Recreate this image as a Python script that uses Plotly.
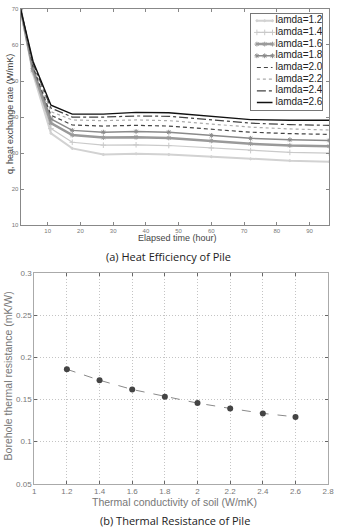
import plotly.graph_objects as go

# ---- data: top chart (heat exchange rate vs elapsed time) ----
hours = [1.7, 5.5, 11, 17.5, 27, 37, 47, 60, 72, 84, 96]
lamda_labels = ["lamda=1.2", "lamda=1.4", "lamda=1.6", "lamda=1.8",
                "lamda=2.0", "lamda=2.2", "lamda=2.4", "lamda=2.6"]
q_12 = [70, 52.0, 35.5, 31.3, 29.6, 29.8, 29.6, 29.0, 28.4, 27.9, 27.6]
q_14 = [70, 52.5, 36.8, 33.0, 32.2, 32.3, 32.1, 31.4, 30.7, 30.2, 30.0]
q_16 = [70, 53.0, 38.3, 35.0, 34.3, 34.4, 34.2, 33.4, 32.6, 32.1, 31.9]
q_18 = [70, 53.5, 39.5, 36.3, 35.8, 36.0, 35.8, 34.9, 34.1, 33.7, 33.5]
q_20 = [70, 54.0, 40.5, 37.8, 37.5, 37.7, 37.5, 36.6, 35.8, 35.4, 35.2]
q_22 = [70, 54.5, 41.5, 39.2, 39.0, 39.2, 39.0, 38.0, 37.2, 36.7, 36.4]
q_24 = [70, 55.0, 42.5, 40.0, 40.0, 40.3, 40.2, 39.2, 38.3, 37.9, 37.7]
q_26 = [70, 55.5, 43.3, 40.8, 40.8, 41.3, 41.2, 40.2, 39.3, 39.1, 39.1]

# ---- data: bottom chart (borehole thermal resistance) ----
conductivity = [1.2, 1.4, 1.6, 1.8, 2.0, 2.2, 2.4, 2.6]
resistance = [0.186, 0.173, 0.162, 0.1535, 0.1458, 0.1395, 0.1336, 0.1294]

top_series = [q_12, q_14, q_16, q_18, q_20, q_22, q_24, q_26]
styles = [
    dict(color="#d2d2d2", width=2, dash="solid", marker=dict(symbol="circle", size=2)),
    dict(color="#cacaca", width=1.2, dash="solid", marker=dict(symbol="cross-thin", size=4)),
    dict(color="#9a9a9a", width=2.5, dash="solid", marker=dict(symbol="asterisk", size=4)),
    dict(color="#8a8a8a", width=1.5, dash="solid", marker=dict(symbol="asterisk", size=4)),
    dict(color="#444444", width=1.2, dash="4px,3px", marker=None),
    dict(color="#aaaaaa", width=1.2, dash="dot", marker=None),
    dict(color="#444444", width=1.2, dash="dashdot", marker=None),
    dict(color="#111111", width=1.4, dash="solid", marker=None),
]

W, H = 341, 531
fig = go.Figure()

for i, (name, ys, st) in enumerate(zip(lamda_labels, top_series, styles)):
    mk = st["marker"]
    line = dict(color=st["color"], width=st["width"], dash=st["dash"])
    tr = dict(x=hours, y=ys, name=name, xaxis="x", yaxis="y", line=line, showlegend=False)
    leg = dict(x=[6, 14, 22], y=[i, i, i], xaxis="x3", yaxis="y3", line=line,
               showlegend=False, hoverinfo="skip")
    if mk:
        marker = dict(symbol=mk["symbol"], size=mk["size"], color=st["color"],
                      line=dict(color=st["color"], width=1))
        tr.update(mode="lines+markers", marker=marker)
        leg.update(mode="lines+markers", marker=marker)
    else:
        tr["mode"] = "lines"
        leg["mode"] = "lines"
    fig.add_trace(go.Scatter(**tr))
    fig.add_trace(go.Scatter(**leg))

# legend text (inset key)
fig.add_trace(go.Scatter(
    x=[25] * len(lamda_labels), y=list(range(len(lamda_labels))), text=lamda_labels,
    mode="text", textposition="middle right", xaxis="x3", yaxis="y3",
    textfont=dict(family="Liberation Sans", size=10, color="#222222"),
    showlegend=False, hoverinfo="skip"))

fig.add_trace(go.Scatter(
    x=conductivity, y=resistance, mode="lines+markers", showlegend=False,
    xaxis="x2", yaxis="y2",
    line=dict(color="#8a8a8a", width=1, dash="dash"),
    marker=dict(symbol="circle", size=6, color="#444444")))

tickfont_top = dict(family="Liberation Sans", size=6, color="#777777")
tickfont_bot = dict(family="Liberation Sans", size=8, color="#777777")

fig.update_layout(
    width=W, height=H, margin=dict(l=0, r=0, t=0, b=0),
    paper_bgcolor="white", plot_bgcolor="white",
    font=dict(family="Liberation Sans", color="#333333"),
    showlegend=False,
    xaxis=dict(domain=[19 / W, 335 / W], range=[1.7, 96], anchor="y",
               tickvals=[10, 20, 30, 40, 50, 60, 70, 80, 90],
               ticks="inside", ticklen=3, tickcolor="#888888",
               showline=True, linecolor="#888888", mirror="ticks",
               showgrid=False, zeroline=False, tickfont=tickfont_top),
    yaxis=dict(domain=[1 - 225 / H, 1 - 5 / H], range=[10, 70], anchor="x",
               tickvals=[10, 20, 30, 40, 50, 60, 70],
               ticks="inside", ticklen=3, tickcolor="#888888",
               showline=True, linecolor="#888888", mirror="ticks",
               showgrid=False, zeroline=False, tickfont=tickfont_top),
    xaxis2=dict(domain=[33 / W, 334 / W], range=[1, 2.8], anchor="y2",
                tickvals=[1, 1.2, 1.4, 1.6, 1.8, 2, 2.2, 2.4, 2.6, 2.8],
                ticktext=["1", "1.2", "1.4", "1.6", "1.8", "2", "2.2", "2.4", "2.6", "2.8"],
                ticks="inside", ticklen=3, tickcolor="#666666",
                showline=True, linecolor="#aaaaaa", mirror="ticks",
                showgrid=True, gridcolor="#c4c4c4", griddash="1px,2px", gridwidth=1,
                zeroline=False, tickfont=tickfont_bot),
    yaxis2=dict(domain=[1 - 488 / H, 1 - 274 / H], range=[0.05, 0.3], anchor="x2",
                tickvals=[0.05, 0.1, 0.15, 0.2, 0.25, 0.3],
                ticktext=["0.05", "0.1", "0.15", "0.2", "0.25", "0.3"],
                ticks="inside", ticklen=3, tickcolor="#666666",
                showline=True, linecolor="#aaaaaa", mirror="ticks",
                showgrid=True, gridcolor="#c4c4c4", griddash="1px,2px", gridwidth=1,
                zeroline=False, tickfont=tickfont_bot),
    # inset key axes
    xaxis3=dict(domain=[255 / W, 328 / W], range=[0, 73], anchor="y3",
                showline=True, linecolor="#777777", mirror=True,
                showgrid=False, zeroline=False, showticklabels=False, ticks=""),
    yaxis3=dict(domain=[1 - 108 / H, 1 - 10 / H], range=[7.65, -0.59], anchor="x3",
                showline=True, linecolor="#777777", mirror=True,
                showgrid=False, zeroline=False, showticklabels=False, ticks=""),
)

def ann(text, x, y, size, color, family="Liberation Sans", angle=0):
    fig.add_annotation(text=text, x=x / W, y=1 - y / H, xref="paper", yref="paper",
                       showarrow=False, textangle=angle, xanchor="center", yanchor="middle",
                       font=dict(family=family, size=size, color=color))

ann("q, heat exchange rate (W/mK)", 8, 112, 9, "#444444", angle=-90)
ann("Elapsed time (hour)", 180, 238, 9, "#444444")
ann("(a) Heat Efficiency of Pile", 170, 257, 11, "#222222", family="Open Sans")
ann("Borehole thermal resistance (mK/W)", 6, 378, 10.5, "#777777", angle=-90)
ann("Thermal conductivity of soil (W/mK)", 177, 507, 10.5, "#777777")
ann("(b) Thermal Resistance of Pile", 177, 525, 11, "#222222", family="Open Sans")

fig.write_html("out.html")
